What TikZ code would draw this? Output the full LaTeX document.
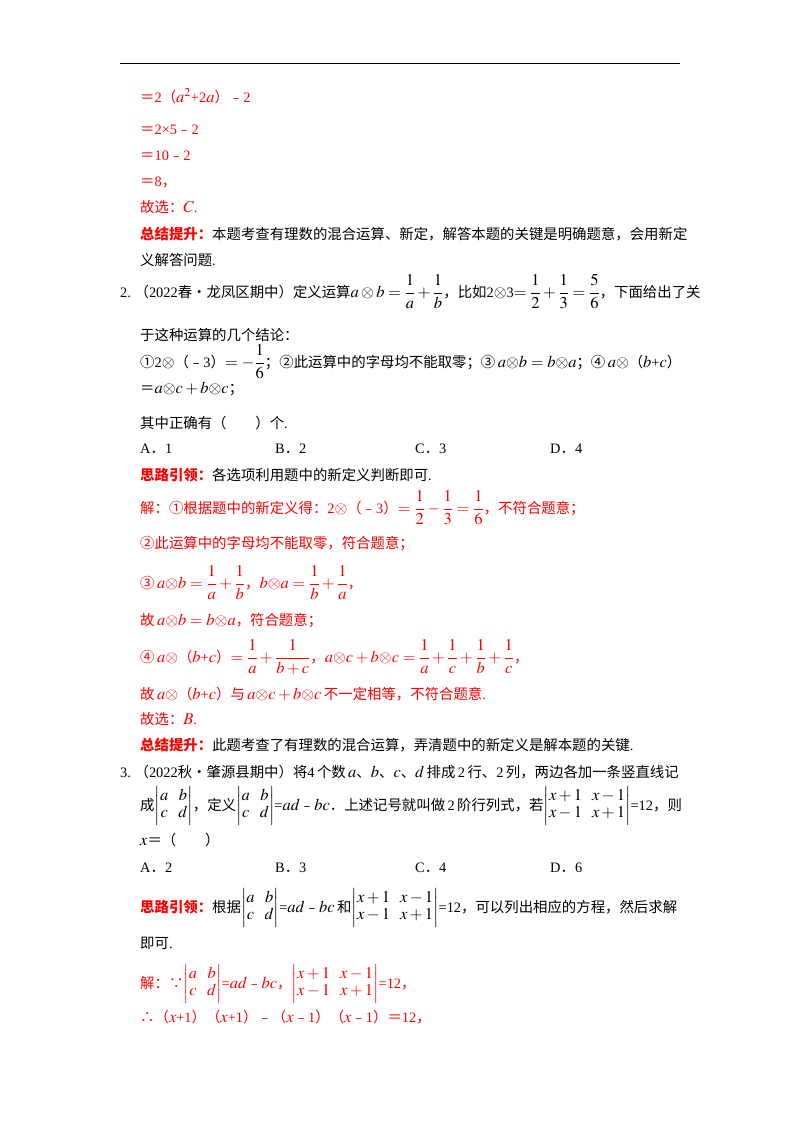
\documentclass[tikz,border=0pt]{standalone}
\usepackage{amsmath}
\usepackage{mathptmx}
\usepackage{fontspec}
\setmainfont{Liberation Serif}
\DeclareMathSizes{14.4}{16.5}{12}{9}
\newfontfamily\cjk{Noto Sans CJK SC}
\newcommand\zh[1]{{\cjk #1}}
\newcommand\mn{{\cjk ﹣}}
\newcommand\hd[1]{{\cjk\bfseries\color{red}#1}}
\newcommand\TL[3]{\node[anchor=base west,inner sep=0pt] at (#1pt,-#2pt) {#3};}
\begin{document}
\begin{tikzpicture}[x=1pt,y=1pt]
\useasboundingbox (0,0) rectangle (800,-1132);
\fill[white] (0,0) rectangle (800,-1132);
\draw[line width=1pt] (120,-64) -- (680,-64);
\fontsize{14.4}{17}\selectfont
\TL{140}{102}{\color{red}\zh{＝}2\zh{（}$a^2$+2$a$\zh{）}\mn2}
\TL{140}{134}{\color{red}\zh{＝}2×5\mn2}
\TL{140}{160}{\color{red}\zh{＝}10\mn2}
\TL{140}{186}{\color{red}\zh{＝}8\zh{，}}
\TL{140}{212}{\color{red}\zh{故选：}$C$.}
\TL{140}{239}{\hd{总结提升：}\zh{本题考查有理数的混合运算、新定，解答本题的关键是明确题意，会用新定}}
\TL{140}{265}{\zh{义解答问题}.}
\TL{120}{297}{2.\ \zh{（}2022\zh{春•龙凤区期中）定义运算}$a\otimes b=\dfrac1a+\dfrac1b$\zh{，比如}2$\otimes$3$=\dfrac12+\dfrac13=\dfrac56$\zh{，下面给出了关}}
\TL{140}{340}{\zh{于这种运算的几个结论：}}
\TL{140}{367}{\zh{①}2$\otimes$\zh{（}\mn3\zh{）}$=-\dfrac16$\zh{；②此运算中的字母均不能取零；③}\,$a{\otimes}b=b{\otimes}a$\zh{；④}\,$a\otimes$\zh{（}$b$+$c$\zh{）}}
\TL{140}{393}{\zh{＝}$a{\otimes}c+b{\otimes}c$\zh{；}}
\TL{140}{428}{\zh{其中正确有（　　）个}.}
\TL{140}{453}{A\zh{．}1}
\TL{275}{453}{B\zh{．}2}
\TL{415}{453}{C\zh{．}3}
\TL{550}{453}{D\zh{．}4}
\TL{140}{480}{\hd{思路引领：}\zh{各选项利用题中的新定义判断即可}.}
\TL{140}{513}{\color{red}\zh{解：①根据题中的新定义得：}2$\otimes$\zh{（}\mn3\zh{）}$=\dfrac12-\dfrac13=\dfrac16$\zh{，不符合题意；}}
\TL{140}{548}{\color{red}\zh{②此运算中的字母均不能取零，符合题意；}}
\TL{140}{588}{\color{red}\zh{③}\,$a{\otimes}b=\dfrac1a+\dfrac1b$\zh{，}$b{\otimes}a=\dfrac1b+\dfrac1a$\zh{，}}
\TL{140}{625}{\color{red}\zh{故}\,$a{\otimes}b=b{\otimes}a$\zh{，符合题意；}}
\TL{140}{662}{\color{red}\zh{④}\,$a\otimes$\zh{（}$b$+$c$\zh{）}$=\dfrac1a+\dfrac1{b+c}$\zh{，}$a{\otimes}c+b{\otimes}c=\dfrac1a+\dfrac1c+\dfrac1b+\dfrac1c$\zh{，}}
\TL{140}{699}{\color{red}\zh{故}\,$a\otimes$\zh{（}$b$+$c$\zh{）与}\,$a{\otimes}c+b{\otimes}c$\,\zh{不一定相等，不符合题意}.}
\TL{140}{724}{\color{red}\zh{故选：}$B$.}
\TL{140}{750}{\hd{总结提升：}\zh{此题考查了有理数的混合运算，弄清题中的新定义是解本题的关键}.}
\TL{120}{777}{3.\ \zh{（}2022\zh{秋•肇源县期中）将}4\,\zh{个数}\,$a$\zh{、}$b$\zh{、}$c$\zh{、}$d$\,\zh{排成}\,2\,\zh{行、}2\,\zh{列，两边各加一条竖直线记}}
\TL{140}{810}{\zh{成}$\begin{vmatrix}a&b\\c&d\end{vmatrix}$\zh{，定义}$\begin{vmatrix}a&b\\c&d\end{vmatrix}$=$ad$\mn$bc$\zh{．上述记号就叫做}\,2\,\zh{阶行列式，若}$\begin{vmatrix}x+1&x-1\\x-1&x+1\end{vmatrix}$=12\zh{，则}}
\TL{140}{845}{$x$\zh{＝（　　）}}
\TL{140}{872}{A\zh{．}2}
\TL{275}{872}{B\zh{．}3}
\TL{415}{872}{C\zh{．}4}
\TL{550}{872}{D\zh{．}6}
\TL{140}{912}{\hd{思路引领：}\zh{根据}$\begin{vmatrix}a&b\\c&d\end{vmatrix}$=$ad$\mn$bc$\,\zh{和}$\begin{vmatrix}x+1&x-1\\x-1&x+1\end{vmatrix}$=12\zh{，可以列出相应的方程，然后求解}}
\TL{140}{948}{\zh{即可}.}
\TL{140}{988}{\color{red}\zh{解：∵}$\begin{vmatrix}a&b\\c&d\end{vmatrix}$=$ad$\mn$bc$\zh{，}$\begin{vmatrix}x+1&x-1\\x-1&x+1\end{vmatrix}$=12\zh{，}}
\TL{140}{1022}{\color{red}\zh{∴（}$x$+1\zh{）（}$x$+1\zh{）}\mn\zh{（}$x$\mn1\zh{）（}$x$\mn1\zh{）＝}12\zh{，}}
\end{tikzpicture}
\end{document}
